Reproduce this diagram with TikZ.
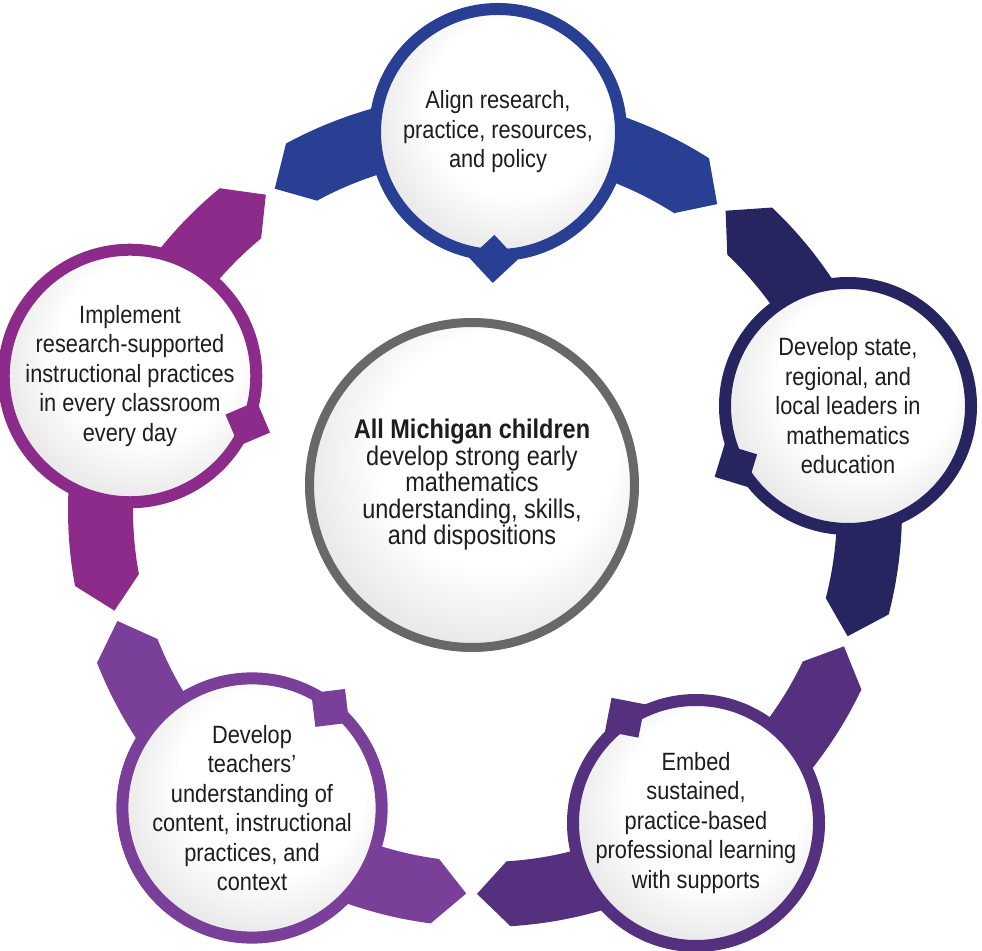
\documentclass[tikz,border=0pt]{standalone}
\usepackage{fontspec}
\setmainfont{Liberation Sans}[FakeStretch=0.87]
\usetikzlibrary{calc}
\definecolor{alignblue}{RGB}{40,63,147}
\definecolor{leadnavy}{RGB}{39,37,95}
\definecolor{embedpurple}{RGB}{85,48,127}
\definecolor{teachviolet}{RGB}{122,63,153}
\definecolor{practplum}{RGB}{141,43,139}
\definecolor{goalgray}{RGB}{104,104,104}
\definecolor{textdark}{RGB}{30,28,30}
\pgfdeclareradialshading{discshade}{\pgfpoint{6bp}{8bp}}{color(0bp)=(white); color(18bp)=(white); color(31bp)=(black!11); color(50bp)=(black!11)}
\newcommand{\armband}[2]{%
  \fill[#2, shift={(485,440)}] (#1-30.5:352) -- (#1-35.2:384) -- (#1-30.5:417)
    arc[start angle=#1-30.5, end angle=#1+30.5, radius=417]
    -- (#1+35.2:384) -- (#1+30.5:352)
    arc[start angle=#1+30.5, end angle=#1-30.5, radius=352] -- cycle;}

\begin{document}
\begin{tikzpicture}[x=1pt, y=1pt,
  goal/.style={circle, draw=goalgray, line width=9pt, minimum size=325pt, inner sep=0pt, shade, shading=discshade, align=center, text=textdark, font=\fontsize{27}{26.5}\selectfont},
  aim/.style={circle, draw=#1, line width=12pt, minimum size=246pt, inner sep=0pt, shade, shading=discshade, align=center, text=textdark, font=\fontsize{25}{29.5}\selectfont},
  marker/.style={rectangle, fill=#1, minimum size=34pt, inner sep=0pt}
]
  \useasboundingbox (0,0) rectangle (982,950);

  \armband{88}{alignblue}
  \armband{16}{leadnavy}
  \armband{-56}{embedpurple}
  \armband{-128}{teachviolet}
  \armband{160}{practplum}

  \node[goal] (goal) at (472,465) {{\bfseries All Michigan children}\\develop strong early\\mathematics\\understanding, skills,\\and dispositions};

  \node[aim=alignblue] (align) at (498,818) {Align research,\\practice, resources,\\and policy};
  \node[aim=leadnavy] (leaders) at (848,544) {Develop state,\\regional, and\\local leaders in\\mathematics\\education};
  \node[aim=embedpurple] (embed) at (696,127) {Embed\\sustained,\\practice-based\\professional learning\\with supports};
  \node[aim=teachviolet] (teachers) at (252,142) {Develop\\teachers’\\understanding of\\content, instructional\\practices, and\\context};
  \node[aim=practplum] (implement) at (130,574) {Implement\\research-supported\\instructional practices\\in every classroom\\every day};

  \node[marker=alignblue, rotate=313] (alignmark) at ($(align.center)+(268:127)$) {};
  \node[marker=leadnavy, rotate=253] (leadersmark) at ($(leaders.center)+(208:127)$) {};
  \node[marker=embedpurple, rotate=169] (embedmark) at ($(embed.center)+(124:127)$) {};
  \node[marker=teachviolet, rotate=97] (teachersmark) at ($(teachers.center)+(52:127)$) {};
  \node[marker=practplum, rotate=23] (implementmark) at ($(implement.center)+(338:127)$) {};
\end{tikzpicture}
\end{document}
